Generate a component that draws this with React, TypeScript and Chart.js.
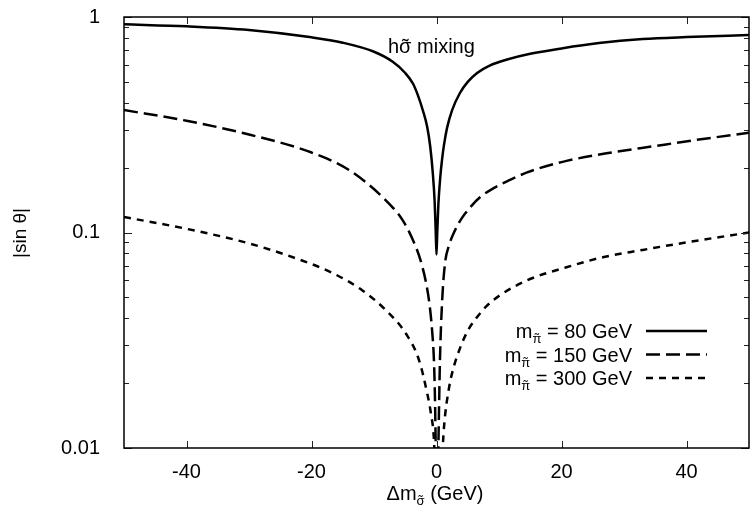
import React, { useEffect, useRef } from 'react';
import { Chart, registerables } from 'chart.js';

Chart.register(...registerables);

const FONT = '"Liberation Sans", Arial, Helvetica, sans-serif';

// ---- data ----
const xTickValues = [-40, -20, 0, 20, 40];
const yTickValues = [0.01, 0.1, 1];
const yTickLabels = ['0.01', '0.1', '1'];
const yMinorTicks = [0.02, 0.03, 0.04, 0.05, 0.06, 0.07, 0.08, 0.09, 0.2, 0.3, 0.4, 0.5, 0.6, 0.7, 0.8, 0.9];

const massLabels = ['80', '150', '300'];

const x80 = [-50, -40, -30, -20, -15, -10, -7, -5, -3.75, -3, -2.2, -1.5, -1, -0.6, -0.3, -0.12, 0, 0.12, 0.3, 0.6, 0.88, 1.2, 1.68, 2.5, 3.75, 5, 6.5, 8.5, 11.3, 15, 20, 26, 33, 40, 50];
const y80 = [0.925, 0.905, 0.87, 0.805, 0.76, 0.69, 0.62, 0.55, 0.49, 0.435, 0.37, 0.31, 0.25, 0.19, 0.14, 0.1, 0.079, 0.1, 0.135, 0.18, 0.217, 0.255, 0.305, 0.37, 0.444, 0.5, 0.55, 0.595, 0.635, 0.675, 0.715, 0.757, 0.79, 0.807, 0.825];

const x150 = [-50, -40, -30, -20, -14, -8.1, -5.5, -3.9, -2.6, -1.7, -1.1, -0.7, -0.4, -0.24, -0.12, 0.08, 0.3, 0.4, 0.56, 0.9, 1.36, 2, 2.8, 4, 5.4, 7, 9.2, 11.5, 14.5, 17.5, 20.8, 27.2, 35, 42, 50];
const y150 = [0.37, 0.33, 0.285, 0.235, 0.195, 0.141, 0.115, 0.094, 0.075, 0.059, 0.046, 0.035, 0.025, 0.0167, 0.01, 0.004, 0.01, 0.015, 0.026, 0.048, 0.072, 0.087, 0.1, 0.116, 0.131, 0.146, 0.161, 0.174, 0.19, 0.203, 0.215, 0.233, 0.252, 0.27, 0.29];

const x300 = [-50, -40, -30, -22, -16.7, -11.9, -8.1, -4.9, -2.8, -1.5, -0.9, -0.4, 0.3, 1.0, 1.2, 2.0, 2.8, 3.75, 5, 6.5, 8, 10.1, 14.5, 20.8, 26.8, 33, 40, 50];
const y300 = [0.118, 0.104, 0.089, 0.075, 0.065, 0.054, 0.0436, 0.034, 0.0256, 0.018, 0.0145, 0.0108, 0.003, 0.01, 0.0125, 0.019, 0.024, 0.029, 0.035, 0.0405, 0.0455, 0.051, 0.06, 0.069, 0.077, 0.083, 0.09, 0.1];

const seriesX = [x80, x150, x300];
const seriesY = [y80, y150, y300];
const dashes: number[][] = [[], [14, 6], [7, 6]];

const toPoints = (xs: number[], ys: number[]) => xs.map((x, i) => ({ x, y: ys[i] }));

// draw a character with a tilde above it, returns width
const drawTilded = (ctx: CanvasRenderingContext2D, ch: string, x: number, y: number) => {
  const w = ctx.measureText(ch).width;
  ctx.fillText(ch, x, y);
  const tw = ctx.measureText('\u02DC').width;
  ctx.fillText('\u02DC', x + (w - tw) / 2, y);
  return w;
};

type Piece = { t: string; size: number; dy: number; tilde?: boolean };

const measurePieces = (ctx: CanvasRenderingContext2D, pieces: Piece[]) => {
  let w = 0;
  for (const p of pieces) {
    ctx.font = `${p.size}px ${FONT}`;
    w += ctx.measureText(p.t).width;
  }
  return w;
};

const drawPieces = (ctx: CanvasRenderingContext2D, pieces: Piece[], x: number, y: number) => {
  let cx = x;
  ctx.textAlign = 'left';
  ctx.textBaseline = 'alphabetic';
  for (const p of pieces) {
    ctx.font = `${p.size}px ${FONT}`;
    if (p.tilde) cx += drawTilded(ctx, p.t, cx, y + p.dy);
    else {
      ctx.fillText(p.t, cx, y + p.dy);
      cx += ctx.measureText(p.t).width;
    }
  }
};

const decorPlugin = {
  id: 'decor',
  afterDraw(chart: any) {
    const { ctx, chartArea: a, scales } = chart;
    const xs = scales.x;
    const ys = scales.y;
    ctx.save();
    // ticks
    ctx.strokeStyle = '#222';
    ctx.lineWidth = 1;
    ctx.beginPath();
    for (const v of xTickValues) {
      const px = Math.round(xs.getPixelForValue(v)) + 0.5;
      ctx.moveTo(px, a.bottom);
      ctx.lineTo(px, a.bottom - 7);
      ctx.moveTo(px, a.top);
      ctx.lineTo(px, a.top + 7);
    }
    for (const v of yTickValues) {
      const py = Math.round(ys.getPixelForValue(v)) + 0.5;
      ctx.moveTo(a.left, py);
      ctx.lineTo(a.left + 8, py);
      ctx.moveTo(a.right, py);
      ctx.lineTo(a.right - 8, py);
    }
    for (const v of yMinorTicks) {
      const py = Math.round(ys.getPixelForValue(v)) + 0.5;
      ctx.moveTo(a.left, py);
      ctx.lineTo(a.left + 5, py);
      ctx.moveTo(a.right, py);
      ctx.lineTo(a.right - 5, py);
    }
    ctx.stroke();
    // frame
    ctx.strokeStyle = '#000';
    ctx.lineWidth = 1.5;
    ctx.strokeRect(a.left, a.top, a.right - a.left, a.bottom - a.top);

    ctx.fillStyle = '#000';
    // title annotation
    drawPieces(ctx, [
      { t: 'h', size: 20, dy: 0 },
      { t: '\u03C3', size: 20, dy: 0, tilde: true },
      { t: ' mixing', size: 20, dy: 0 },
    ], 388, 53);

    // legend
    const rowBase = [338, 361.5, 385];
    massLabels.forEach((m, i) => {
      const pieces: Piece[] = [
        { t: 'm', size: 20, dy: 0 },
        { t: '\u03C0', size: 13, dy: 5, tilde: true },
        { t: ` = ${m} GeV`, size: 20, dy: 0 },
      ];
      const w = measurePieces(ctx, pieces);
      ctx.fillStyle = '#000';
      drawPieces(ctx, pieces, 632 - w, rowBase[i]);
      ctx.beginPath();
      ctx.setLineDash(dashes[i]);
      ctx.lineWidth = 2.5;
      ctx.strokeStyle = '#000';
      ctx.moveTo(646, rowBase[i] - 7);
      ctx.lineTo(707, rowBase[i] - 7);
      ctx.stroke();
      ctx.setLineDash([]);
    });

    // x title
    const xt: Piece[] = [
      { t: '\u0394m', size: 20, dy: 0 },
      { t: '\u03C3', size: 13, dy: 5, tilde: true },
      { t: ' (GeV)', size: 20, dy: 0 },
    ];
    const xw = measurePieces(ctx, xt);
    drawPieces(ctx, xt, 435 - xw / 2, 500);

    // y title
    ctx.save();
    ctx.translate(21, 233);
    ctx.rotate(-Math.PI / 2);
    ctx.font = `19px ${FONT}`;
    ctx.textAlign = 'center';
    ctx.textBaseline = 'middle';
    ctx.fillText('|sin \u03B8|', 0, 0);
    ctx.restore();

    ctx.restore();
  },
};

export default function App() {
  const ref = useRef<HTMLCanvasElement | null>(null);
  useEffect(() => {
    if (!ref.current) return;
    const chart = new Chart(ref.current, {
      type: 'scatter',
      data: {
        datasets: seriesX.map((xs, i) => ({
          label: `m = ${massLabels[i]} GeV`,
          data: toPoints(xs, seriesY[i]),
          showLine: true,
          borderColor: '#000',
          borderWidth: 2.5,
          borderDash: dashes[i],
          pointRadius: 0,
          cubicInterpolationMode: 'monotone',
          fill: false,
        })),
      },
      options: {
        animation: false,
        responsive: false,
        devicePixelRatio: 1,
        layout: { padding: { left: 0, right: 3, top: 17, bottom: 0 } },
        plugins: { legend: { display: false }, tooltip: { enabled: false } },
        scales: {
          x: {
            type: 'linear',
            min: -50,
            max: 50,
            grid: { display: false },
            border: { display: false },
            afterBuildTicks: (s: any) => {
              s.ticks = xTickValues.map((v) => ({ value: v }));
            },
            afterFit: (s: any) => {
              s.height = 68;
              s.paddingLeft = 0;
              s.paddingRight = 0;
            },
            ticks: {
              color: '#000',
              font: { family: FONT, size: 20 },
              padding: 4,
              maxRotation: 0,
              callback: (v: any) => String(v),
            },
          },
          y: {
            type: 'logarithmic',
            min: 0.01,
            max: 1,
            grid: { display: false },
            border: { display: false },
            afterBuildTicks: (s: any) => {
              s.ticks = yTickValues.map((v) => ({ value: v }));
            },
            afterFit: (s: any) => {
              s.width = 124;
              s.paddingTop = 0;
              s.paddingBottom = 0;
            },
            ticks: {
              color: '#000',
              font: { family: FONT, size: 20 },
              padding: 16,
              callback: (v: any) => {
                const idx = yTickValues.findIndex((t) => Math.abs(t - v) < 1e-9);
                return idx >= 0 ? yTickLabels[idx] : '';
              },
            },
          },
        },
      } as any,
      plugins: [decorPlugin],
    });
    return () => chart.destroy();
  }, []);
  return (
    <div style={{ position: 'absolute', left: 0, top: 0, width: 752, height: 516, background: '#fff' }}>
      <canvas ref={ref} width={752} height={516} style={{ width: 752, height: 516 }} />
    </div>
  );
}
